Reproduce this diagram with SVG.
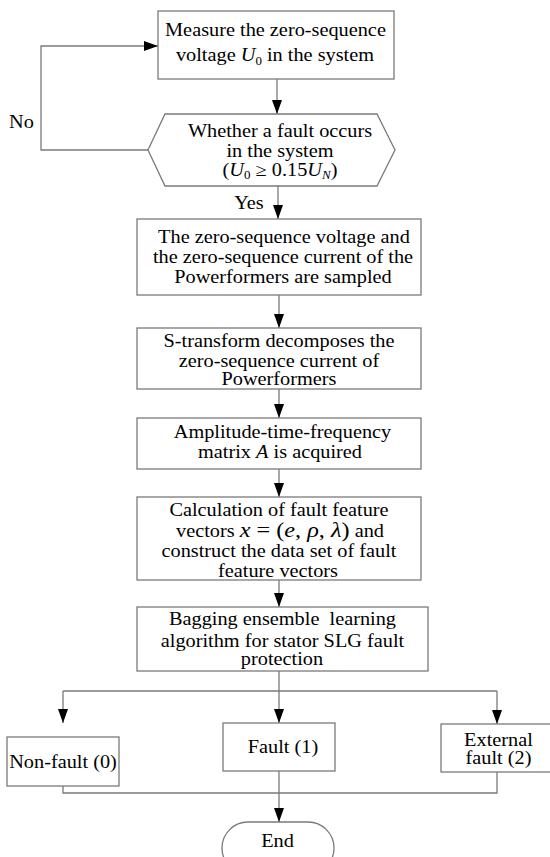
<svg xmlns="http://www.w3.org/2000/svg" width="550" height="857" viewBox="0 0 550 857">
<style>
.bx{fill:#fff;stroke:#7a7a7a;stroke-width:1.3}
.ln{fill:none;stroke:#7a7a7a;stroke-width:1.3}
text{font-family:'Liberation Serif','Times New Roman',serif;font-size:18px;fill:#000;text-anchor:middle}
.i{font-style:italic}
.s{font-size:11.5px}
.m{font-size:21.5px}
</style>
<defs>
<marker id="ah" viewBox="0 0 14 10" refX="14" refY="5" markerWidth="14" markerHeight="10" markerUnits="userSpaceOnUse" orient="auto">
<path d="M0,0 L14,5 L0,10 z" fill="#000"/>
</marker>
</defs>
<rect width="550" height="857" fill="#fff"/>
<g id="connectors">
<path class="ln" d="M277,79 V114" marker-end="url(#ah)"/>
<path class="ln" d="M148,150 H41 V46 H158" marker-end="url(#ah)"/>
<path class="ln" d="M278,186 V219" marker-end="url(#ah)"/>
<path class="ln" d="M279,295 V328" marker-end="url(#ah)"/>
<path class="ln" d="M279,389 V418" marker-end="url(#ah)"/>
<path class="ln" d="M279,469 V497" marker-end="url(#ah)"/>
<path class="ln" d="M279,580 V607" marker-end="url(#ah)"/>
<path class="ln" d="M279,671 V723" marker-end="url(#ah)"/>
<path class="ln" d="M63,691 H497"/>
<path class="ln" d="M63,691 V723" marker-end="url(#ah)"/>
<path class="ln" d="M497,691 V724" marker-end="url(#ah)"/>
<path class="ln" d="M63,772 V793 H497 V772"/>
<path class="ln" d="M279,771 V822" marker-end="url(#ah)"/>
<text transform="scale(1.128,1)" x="19.06" y="128">No</text>
<text transform="scale(1.128,1)" x="220.74" y="209">Yes</text>
</g>
<g id="measure">
<rect class="bx" x="158" y="11" width="236" height="68"/>
<text transform="scale(1.128,1)" x="244.24" y="36">Measure the zero-sequence</text>
<text transform="scale(1.128,1)" x="243.79" y="61">voltage <tspan class="i">U</tspan><tspan class="s" dy="4">0</tspan><tspan dy="-4"> in the system</tspan></text>
</g>
<g id="decision">
<polygon class="bx" points="148,150 165,114 377,114 395,150 377,186 165,186"/>
<text transform="scale(1.128,1)" x="248.23" y="137">Whether a fault occurs</text>
<text transform="scale(1.128,1)" x="248.23" y="157">in the system</text>
<text transform="scale(1.128,1)" x="248.23" y="176">(<tspan class="i">U</tspan><tspan class="s" dy="3">0</tspan><tspan dy="-3"> ≥ 0.15</tspan><tspan class="i">U</tspan><tspan class="s i" dy="3">N</tspan><tspan dy="-3">)</tspan></text>
</g>
<g id="sample">
<rect class="bx" x="137" y="219" width="284" height="76"/>
<text transform="scale(1.128,1)" x="251.77" y="243">The zero-sequence voltage and</text>
<text transform="scale(1.128,1)" x="250.89" y="263">the zero-sequence current of the</text>
<text transform="scale(1.128,1)" x="250.89" y="283">Powerformers are sampled</text>
</g>
<g id="stransform">
<rect class="bx" x="137" y="328" width="284" height="61"/>
<text transform="scale(1.128,1)" x="247.34" y="347">S-transform decomposes the</text>
<text transform="scale(1.128,1)" x="247.34" y="367">zero-sequence current of</text>
<text transform="scale(1.128,1)" x="247.34" y="385">Powerformers</text>
</g>
<g id="matrix">
<rect class="bx" x="137" y="418" width="284" height="51"/>
<text transform="scale(1.128,1)" x="250.44" y="438">Amplitude-time-frequency</text>
<text transform="scale(1.128,1)" x="248.23" y="458">matrix <tspan class="i">A</tspan> is acquired</text>
</g>
<g id="features">
<rect class="bx" x="137" y="497" width="284" height="83"/>
<text transform="scale(1.128,1)" x="247.34" y="516">Calculation of fault feature</text>
<text transform="scale(1.128,1)" x="248.23" y="537">vectors <tspan class="i m">x</tspan><tspan class="m"> = (</tspan><tspan class="i m">e</tspan><tspan class="m">, </tspan><tspan class="i m">ρ</tspan><tspan class="m">, </tspan><tspan class="i m">λ</tspan><tspan class="m">)</tspan> and</text>
<text transform="scale(1.128,1)" x="247.34" y="557">construct the data set of fault</text>
<text transform="scale(1.128,1)" x="246.45" y="577">feature vectors</text>
</g>
<g id="bagging">
<rect class="bx" x="137" y="607" width="291" height="64"/>
<text transform="scale(1.128,1)" x="250.44" y="625" xml:space="preserve">Bagging ensemble  learning</text>
<text transform="scale(1.128,1)" x="250.44" y="647">algorithm for stator SLG fault</text>
<text transform="scale(1.128,1)" x="250.00" y="665">protection</text>
</g>
<g id="nonfault">
<rect class="bx" x="7" y="737" width="112" height="49"/>
<text transform="scale(1.128,1)" x="55.85" y="768">Non-fault (0)</text>
</g>
<g id="fault">
<rect class="bx" x="223" y="723" width="112" height="48"/>
<text transform="scale(1.128,1)" x="250.89" y="753">Fault (1)</text>
</g>
<g id="external">
<rect class="bx" x="441" y="724" width="115" height="48"/>
<text transform="scale(1.128,1)" x="441.93" y="746">External</text>
<text transform="scale(1.128,1)" x="441.93" y="764">fault (2)</text>
</g>
<g id="end">
<rect class="bx" x="222" y="822" width="112" height="52" rx="26"/>
<text transform="scale(1.128,1)" x="246.01" y="847">End</text>
</g>
</svg>
